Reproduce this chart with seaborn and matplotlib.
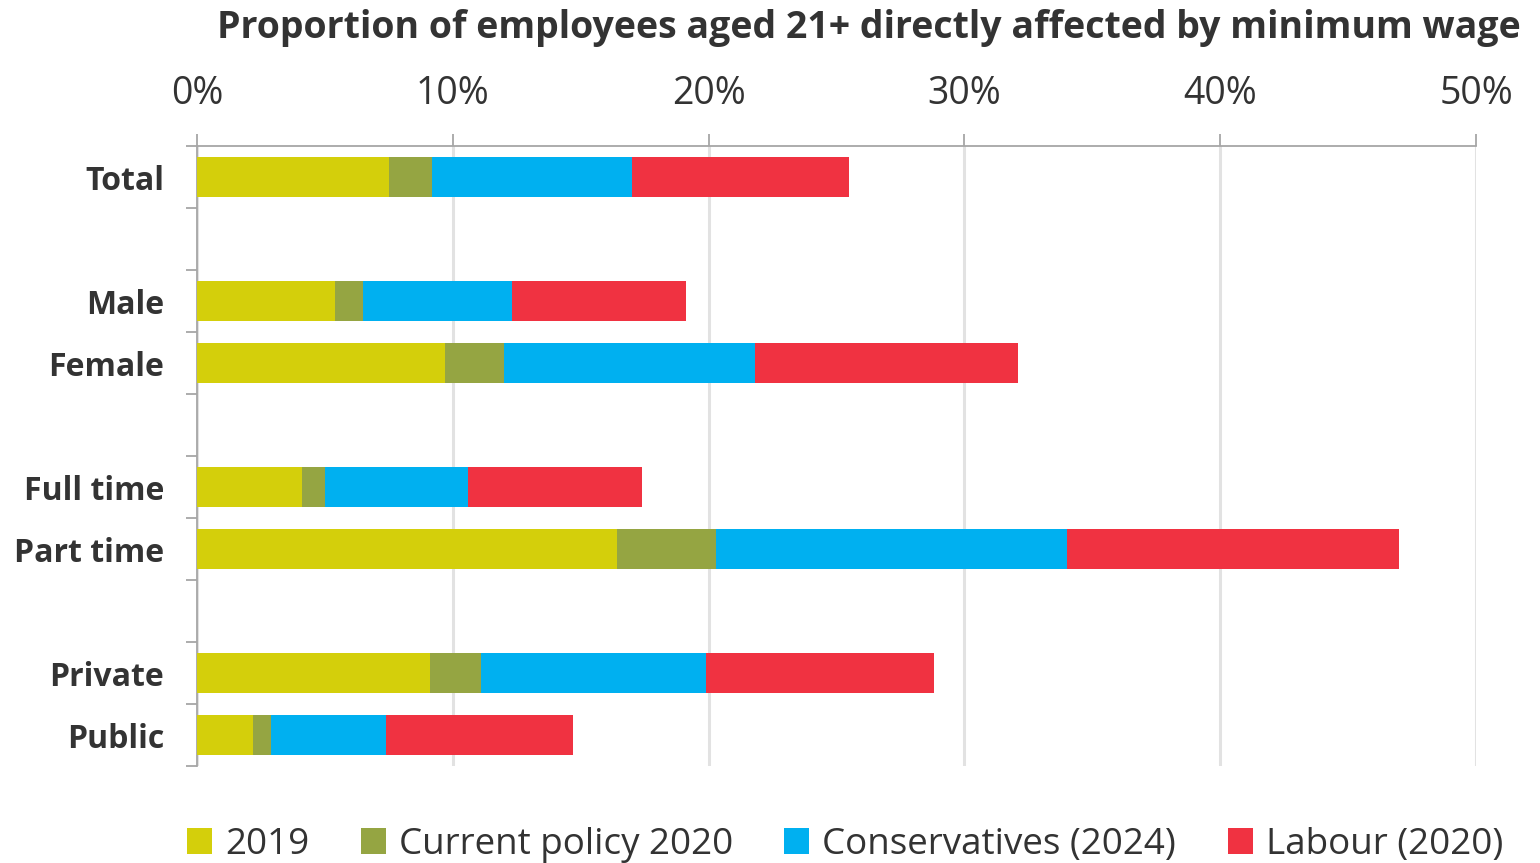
import matplotlib
matplotlib.use("Agg")
import matplotlib.pyplot as plt
import seaborn as sns
import pandas as pd
import numpy as np
from matplotlib.patches import Patch
from matplotlib.ticker import FixedLocator

# ---- data ----
categories = ["Total", " ", "Male", "Female", "  ", "Full time", "Part time", "   ", "Private", "Public"]
groups = ["Total", "Male", "Female", "Full time", "Part time", "Private", "Public"]
series_names = ["2019", "Current policy 2020", "Conservatives (2024)", "Labour (2020)"]
v_2019 = [7.5, 5.4, 9.7, 4.1, 16.4, 9.1, 2.2]
v_current = [1.7, 1.1, 2.3, 0.9, 3.9, 2.0, 0.7]
v_cons = [7.8, 5.8, 9.8, 5.6, 13.7, 8.8, 4.5]
v_labour = [8.5, 6.8, 10.3, 6.8, 13.0, 8.9, 7.3]
x_ticks = [0, 10, 20, 30, 40, 50]
x_tick_labels = ["0%", "10%", "20%", "30%", "40%", "50%"]
colors = ["#D4CF0B", "#95A542", "#00B0F0", "#F03241"]
title = "Proportion of employees aged 21+ directly affected by minimum wage"

sns.set_theme(style="white")
plt.rcParams["font.family"] = ["Open Sans", "DejaVu Sans"]
TXT = "#333333"

segs = np.array([v_2019, v_current, v_cons, v_labour])
cum = np.cumsum(segs, axis=0)

fig = plt.figure(figsize=(15.4, 8.63), dpi=100)
W, H = 1540, 863
ax = fig.add_axes([197 / W, 1 - 766 / H, (1476 - 197) / W, (766 - 146) / H])

# draw from the largest cumulative to the smallest so stacks show
for i in range(3, -1, -1):
    df = pd.DataFrame({"cat": groups, "val": cum[i]})
    sns.barplot(data=df, y="cat", x="val", order=categories, color=colors[i],
                width=0.66, ax=ax, orient="h", saturation=1, linewidth=0, zorder=3)

ax.set_xlim(0, 50)
ax.set_ylim(len(categories) - 0.5, -0.5)
ax.xaxis.tick_top()
ax.set_xticks(x_ticks)
ax.set_xticklabels(x_tick_labels, fontsize=27, color=TXT)
ax.tick_params(axis="x", which="major", length=9, width=1.3, color="#A6A6A6", pad=15)
ax.set_xlabel("")
ax.set_ylabel("")

ax.set_yticks(range(len(categories)))
ax.set_yticklabels(categories, fontsize=23, fontweight="bold", color=TXT)
ax.tick_params(axis="y", which="major", length=0, pad=23.5)
ax.yaxis.set_minor_locator(FixedLocator(np.arange(-0.5, len(categories), 1.0)))
ax.tick_params(axis="y", which="minor", length=8, width=1.3, color="#A6A6A6", left=True)

ax.grid(axis="x", color="#E2E2E2", linewidth=2.2, zorder=0)
ax.set_axisbelow(True)
for s in ["right", "bottom"]:
    ax.spines[s].set_visible(False)
for s in ["left", "top"]:
    ax.spines[s].set_color("#A6A6A6")
    ax.spines[s].set_linewidth(1.3)

fig.text(1521 / W, 1 - 28 / H, title, ha="right", va="center",
         fontsize=27, fontweight="bold", color=TXT)

handles = [Patch(facecolor=c, edgecolor="none") for c in colors]
leg = fig.legend(handles, series_names, loc="center", bbox_to_anchor=(845 / W, 1 - 845 / H),
                 ncol=4, frameon=False, fontsize=26.5, handlelength=0.68, handleheight=0.68,
                 handletextpad=0.35, columnspacing=1.4, labelcolor=TXT)

fig.savefig("out.png", dpi=100)
